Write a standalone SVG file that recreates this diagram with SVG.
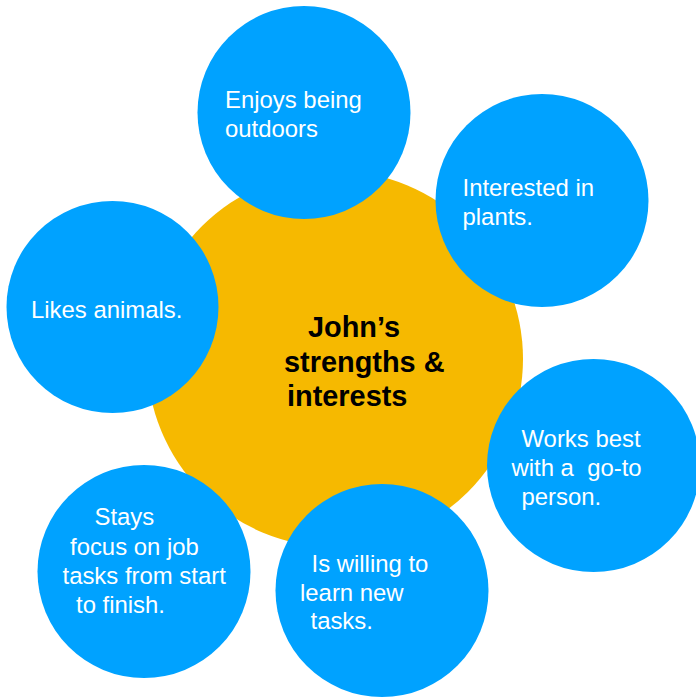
<svg xmlns="http://www.w3.org/2000/svg" width="696" height="697" viewBox="0 0 696 697">
<style>
.bubble{fill:#00A2FF}
.core{fill:#F6B900}
.lbl{font-family:"Liberation Sans",Arial,Helvetica,sans-serif;font-size:23.9px;fill:#FFFFFF;white-space:pre}
.title{font-family:"Liberation Sans",Arial,Helvetica,sans-serif;font-size:28.9px;font-weight:bold;fill:#000000}
</style>
<rect width="696" height="697" fill="#FFFFFF"/>
<g id="center">
<circle class="core" cx="335" cy="359" r="188"/>
<text class="title"><tspan x="308" y="337">John’s</tspan><tspan x="284" y="372">strengths &amp;</tspan><tspan x="287" y="406">interests</tspan></text>
</g>
<g id="outdoors">
<circle class="bubble" cx="304" cy="112.5" r="106.5"/>
<text class="lbl"><tspan x="225" y="108">Enjoys being</tspan><tspan x="225" y="137">outdoors</tspan></text>
</g>
<g id="plants">
<circle class="bubble" cx="542" cy="200.5" r="106.5"/>
<text class="lbl"><tspan x="462.5" y="196">Interested in</tspan><tspan x="462.5" y="225">plants.</tspan></text>
</g>
<g id="animals">
<circle class="bubble" cx="112.5" cy="307" r="106"/>
<text class="lbl"><tspan x="31" y="318">Likes animals.</tspan></text>
</g>
<g id="gotoperson">
<circle class="bubble" cx="593.5" cy="465.5" r="106.5"/>
<text class="lbl" xml:space="preserve"><tspan x="521.5" y="447">Works best</tspan><tspan x="511.5" y="476">with a  go-to</tspan><tspan x="521.5" y="505">person.</tspan></text>
</g>
<g id="focus">
<circle class="bubble" cx="144" cy="571.5" r="106.5"/>
<text class="lbl"><tspan x="94.5" y="525">Stays</tspan><tspan x="70" y="555">focus on job</tspan><tspan x="62.5" y="584">tasks from start</tspan><tspan x="76" y="613">to finish.</tspan></text>
</g>
<g id="learn">
<circle class="bubble" cx="382" cy="590.5" r="106.5"/>
<text class="lbl"><tspan x="311.5" y="571.5">Is willing to</tspan><tspan x="300" y="600.5">learn new</tspan><tspan x="310.5" y="629">tasks.</tspan></text>
</g>
<g id="connectors"/>
</svg>
